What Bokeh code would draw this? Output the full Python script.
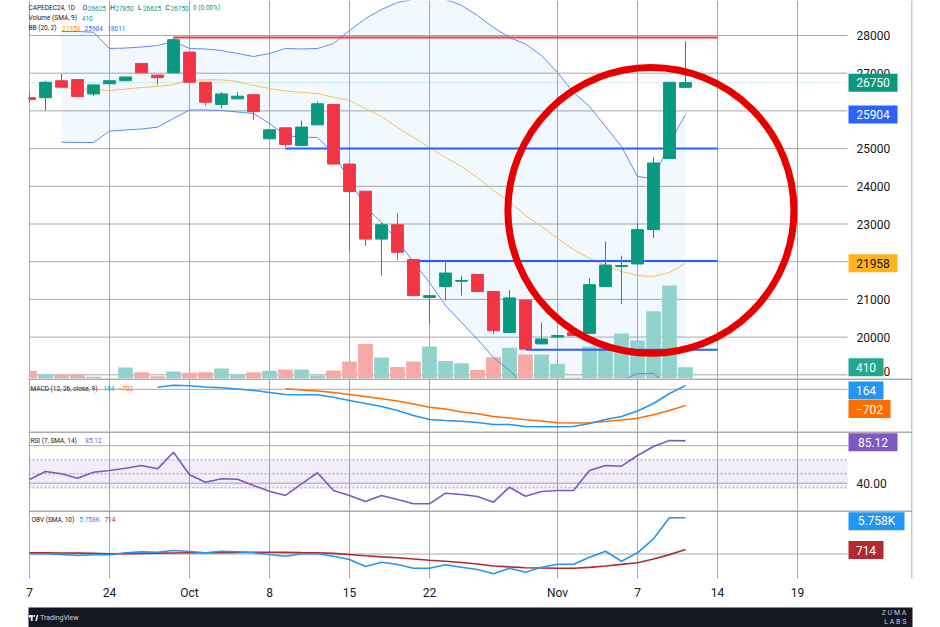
import math
from bokeh.plotting import figure
from bokeh.models import FixedTicker, Grid, Span, Range1d
from bokeh.layouts import column
from bokeh.embed import file_html
from bokeh.resources import INLINE
from bokeh.core.properties import value

NAN = float("nan")

# ------------------------------------------------------------------ data
BAR_INDEX = list(range(-5, 37))          # trading-day index (0 = Sep 24)
TICK_POS = [-5, 0, 5, 10, 15, 20, 28, 33, 38, 43]
TICK_LABELS = ["7", "24", "Oct", "8", "15", "22", "Nov", "7", "14", "19"]

OPEN = [26350, 26350, 26800, 26830, 26450, 26720, 26800, 27260, 26950, 27010,
        27560, 26760, 26170, 26320, 26430, 25260, 25550, 25080, 25630, 26170,
        24590, 23870, 22600, 22980, 22060, 21050, 21340, 21480, 21660, 21210,
        20120, 20980, 19820, 20000, 20120, 20100, 21340, 21870, 21940, 22850,
        24740, 26625]
HIGH = [26480, 26800, 26980, 26830, 26690, 26800, 26900, 27260, 26950, 27950,
        27560, 26760, 26500, 26500, 26430, 25500, 25550, 25740, 26250, 26170,
        24590, 23870, 23040, 23280, 22060, 21110, 21980, 21630, 21660, 21210,
        21250, 20980, 20390, 20060, 20120, 21570, 22540, 22160, 23040, 24770,
        26760, 27850]
LOW = [26220, 26010, 26630, 26380, 26390, 26720, 26800, 27010, 26690, 27010,
       26760, 26140, 26070, 26320, 25760, 25260, 25050, 25080, 25630, 24590,
       22290, 22420, 21630, 22050, 21100, 20350, 20970, 21100, 21210, 20080,
       20120, 19680, 19820, 19990, 20040, 20100, 21340, 20880, 21940, 22630,
       24740, 26625]
CLOSE = [26300, 26760, 26630, 26380, 26690, 26800, 26900, 27010, 26880, 27890,
         26760, 26230, 26450, 26390, 25980, 25500, 25110, 25570, 26190, 24590,
         23860, 22600, 22980, 22250, 21100, 21100, 21700, 21500, 21210, 20170,
         21040, 19680, 19950, 20040, 20040, 21390, 21910, 21900, 22850, 24620,
         26760, 26750]
VOLUME = [280, 156, 134, 134, 62, 20, 400, 229, 84, 254,
          207, 229, 363, 156, 229, 280, 327, 327, 109, 290,
          617, 1252, 762, 417, 617, 1162, 635, 555, 316, 773,
          1114, 871, 871, 534, 30, 1162, 1162, 1634, 1379, 2443,
          3376, 410]

BB_UPPER = [NAN, NAN,
            28106, 28106, 28088, 27655, 27668, 27695, 27735, 27841, 27655, 27642,
            27602, 27523, 27443, 27523, 27655, 27642, 27655, 27788, 28133, 28451,
            28690, 28875, 28960, 29000, 28960, 28800, 28530, 28212, 27947, 27775,
            27469, 27019, 26488, 26117, 25586, 25056, 24260, 24207, 25150, 25904]
BB_BASIS = [NAN, NAN,
            26621, 26594, 26568, 26541, 26581, 26621, 26647, 26700, 26806, 26825,
            26825, 26780, 26674, 26594, 26528, 26488, 26462, 26363, 26276, 26064,
            25851, 25560, 25294, 25029, 24764, 24525, 24233, 23889, 23597, 23225,
            22934, 22615, 22324, 22085, 21899, 21740, 21634, 21607, 21714, 21958]
BB_LOWER = [NAN, NAN,
            25170, 25162, 25162, 25462, 25493, 25520, 25568, 25798, 26024, 26024,
            26011, 25971, 25931, 25666, 25347, 25302, 25294, 24870, 24154, 23464,
            23040, 22562, 21979, 21448, 20838, 20387, 19936, 19459, 19114, 18700,
            18400, 18200, 18150, 18300, 18600, 18850, 19034, 19034, 18700, 18011]

MACD_LINE = [NAN] * 8 + [91, 178, 152, 100, 65, 13, -52, -139, -225, -238,
                         -238, -342, -485, -615, -745, -918, -1134, -1308, -1351, -1381,
                         -1438, -1524, -1524, -1611, -1624, -1624, -1611, -1481, -1308, -1178,
                         -940, -615, -182, 164]
MACD_SIGNAL = [NAN] * 16 + [22, -30, -74, -139, -225, -312, -411, -507, -637, -775,
                            -853, -983, -1061, -1178, -1243, -1321, -1373, -1451, -1459, -1451,
                            -1394, -1329, -1251, -1104, -918, -702]

RSI = [43.9, 52.5, 50, 45.3, 51.7, 53.5, 56, 58.9, 55.3, 73,
       48.9, 41, 44.7, 44.2, 37.5, 31.4, 26.9, 39.3, 51.1, 32.2,
       26.9, 20.5, 26.9, 22.6, 18, 18, 29.3, 27.9, 25.8, 19.7,
       35.7, 26.1, 31.1, 32.2, 32.2, 53.5, 58.9, 58.1, 69.5, 79.1,
       85.5, 85.12]
RSI_BANDS = [35, 50, 65]
RSI_GRID = [40, 80]

OBV = [32, 32, -80, -238, -127, -127, 191, 350, 286, 557,
       398, 191, 445, 350, 191, -80, -350, 32, 32, -350,
       -874, -1988, -1304, -1670, -2258, -2258, -1717, -2099, -2465, -3148,
       -2258, -2894, -2099, -1622, -1622, -509, 445, -1145, 191, 2417,
       5756, 5758]
OBV_SMA = [191, 180, 160, 140, 100, 32, 60, 100, 140, 170,
           191, 200, 220, 260, 280, 286, 260, 220, 191, 100,
           -80, -280, -450, -604, -800, -1000, -1145, -1352, -1600, -1900,
           -2050, -2180, -2220, -2258, -2258, -2130, -1900, -1650, -1400, -800,
           -100, 714]

PRICE_TICKS = [19000, 20000, 21000, 23000, 24000, 25000, 27000, 28000]
BLUE_LEVELS = [25000, 22020, 19665]
BLUE_LEVEL_START = [11, 19.4, 26]
RED_LEVELS = [27950]
RED_LEVEL_START = [4]
LEVEL_END = 38
HIGHLIGHT_BAR, HIGHLIGHT_PRICE = 33.84, 23360

# ------------------------------------------------------------------ style / geometry
W = 940
GRID = "#a8a8a8"
SEP = "#8f9197"
TEXT = "#131722"
UP, DOWN = "#089981", "#f23645"
VOL_UP, VOL_DOWN = "#92d2cc", "#f7a9a7"
FONT = "Roboto"


def ix(px):            # page pixel -> bar index
    return (px - 109) / 16.0


def main_y(py):
    return 28000 - (py - 35) / 0.0377


def vol_y(py):
    return (378 - py) * 36.3


def macd_y(py):
    return (388.8 - py) * 43.3


def rsi_y(py):
    return 50 + (473.3 - py) / 0.9375


def obv_y(py):
    return (553.5 - py) * 159


X_LEFT, X_SCALE, X_RIGHT = ix(28), ix(847), ix(912)

EM = {c: 0.562 for c in "0123456789"}
EM.update({" ": 0.248, ",": 0.197, ".": 0.263, "(": 0.342, ")": 0.348,
           "%": 0.733, "\u2212": 0.57, "-": 0.276})


def text_w(s, size):
    w = 0.0
    for ch in s:
        if ch in EM:
            w += EM[ch]
        elif ch.isupper():
            w += 0.66
        elif ch in "il":
            w += 0.24
        elif ch in "mw":
            w += 0.82
        else:
            w += 0.54
    return w * size * 1.06


def make_fig(height, y_lo, y_hi, bottom=0, axis=False):
    p = figure(width=W, height=height,
               x_range=Range1d(X_LEFT, X_RIGHT), y_range=Range1d(y_lo, y_hi),
               output_backend="svg", toolbar_location=None,
               x_axis_location="below" if axis else None, y_axis_location=None,
               min_border_left=28, min_border_right=28, min_border_top=0,
               min_border_bottom=bottom, outline_line_color=None,
               background_fill_color="white", border_fill_color="white")
    p.xgrid.visible = False
    p.ygrid.visible = False
    p.add_layout(Grid(dimension=0, ticker=FixedTicker(ticks=TICK_POS),
                      grid_line_color=GRID, grid_line_width=1))
    p.add_layout(Span(location=ix(911.5), dimension="height",
                      line_color=SEP, line_width=1))
    return p


def hgrid(p, ys, color=GRID, dash="solid"):
    p.segment(x0=X_LEFT, x1=X_SCALE, y0=ys, y1=ys, line_color=color,
              line_width=1, line_dash=dash)


def legend(p, x0, yv, parts, size=6.5):
    xs, ys, texts, cols = [], [], [], []
    x = x0
    for txt, col, gap in parts:
        xs.append(ix(x))
        ys.append(yv)
        texts.append(txt)
        cols.append(col)
        x += text_w(txt, size) + (0.5 * size if gap else 0.4)
    p.text(x=xs, y=ys, text=texts, text_color=cols, text_font=value(FONT),
           text_font_size=f"{size}px", text_align="left", text_baseline="middle")


def scale_labels(p, ys, texts, baselines=None):
    p.text(x=[ix(856)] * len(ys), y=ys, text=texts, text_color=TEXT,
           text_font=value(FONT), text_font_size="12px", text_align="left",
           text_baseline="middle")


def badge(p, yv, txt, bg, fg="white", y_range_name=None):
    w = 14 + 7 * len(txt)
    cx = ix(848 + w / 2)
    kw = {"y_range_name": y_range_name} if y_range_name else {}
    p.rect(x=[cx], y=[yv], width=w, height=18, width_units="screen",
           height_units="screen", fill_color=bg, line_color=None, **kw)
    p.text(x=[cx], y=[yv], text=[txt], text_color=fg, text_font=value(FONT),
           text_font_size="12px", text_align="center", text_baseline="middle", **kw)


def fmt(v):
    return f"{v:.0f}".replace("-", "\u2212")


up = [c >= o for o, c in zip(OPEN, CLOSE)]
cand_col = [UP if u else DOWN for u in up]
vol_col = [VOL_UP if u else VOL_DOWN for u in up]

# ------------------------------------------------------------------ main pane
main = make_fig(378, main_y(378), main_y(0))
main.extra_y_ranges = {"vol": Range1d(0, vol_y(0))}
hgrid(main, PRICE_TICKS + [22000, 26000])

bb_idx = [i for i, v in zip(BAR_INDEX, BB_UPPER) if not math.isnan(v)]
bb_up = [v for v in BB_UPPER if not math.isnan(v)]
bb_lo = [v for v in BB_LOWER if not math.isnan(v)]
main.varea(x=bb_idx, y1=bb_lo, y2=bb_up, fill_color="#2196f3", fill_alpha=0.06)

main.vbar(x=BAR_INDEX, top=VOLUME, bottom=0, width=0.92, fill_color=vol_col,
          line_color=None, y_range_name="vol")

main.line(BAR_INDEX, BB_UPPER, line_color="#5a8af5", line_width=1)
main.line(BAR_INDEX, BB_LOWER, line_color="#5a8af5", line_width=1)
main.line(BAR_INDEX, BB_BASIS, line_color="#f5bf55", line_width=1)

main.segment(x0=X_LEFT, x1=X_SCALE, y0=CLOSE[-1], y1=CLOSE[-1],
             line_color=UP, line_alpha=0.45, line_width=1, line_dash="1 2")
main.segment(x0=BLUE_LEVEL_START, x1=LEVEL_END, y0=BLUE_LEVELS, y1=BLUE_LEVELS,
             line_color="#2a5cff", line_width=2)
main.segment(x0=RED_LEVEL_START, x1=LEVEL_END, y0=RED_LEVELS, y1=RED_LEVELS,
             line_color="#ef3b45", line_width=2)

main.segment(x0=BAR_INDEX, x1=BAR_INDEX, y0=LOW, y1=HIGH, line_color=cand_col,
             line_width=1)
main.vbar(x=BAR_INDEX, width=0.74,
          top=[max(o, c) for o, c in zip(OPEN, CLOSE)],
          bottom=[min(o, c) for o, c in zip(OPEN, CLOSE)],
          fill_color=cand_col, line_color=cand_col, line_width=1)

main.scatter(x=[HIGHLIGHT_BAR], y=[HIGHLIGHT_PRICE], marker="circle", size=286,
             fill_color=None, line_color="#e60000", line_width=7)

# price-scale labels; the lowest one is lifted so it stays inside the pane
label_y = [max(t, main_y(371)) for t in PRICE_TICKS]
scale_labels(main, label_y, [str(t) for t in PRICE_TICKS])
badge(main, CLOSE[-1], str(CLOSE[-1]), UP)
badge(main, BB_UPPER[-1], str(BB_UPPER[-1]), "#2962ff")
badge(main, BB_BASIS[-1], str(BB_BASIS[-1]), "#ffb31a", TEXT)
badge(main, VOLUME[-1], str(VOLUME[-1]), "#22a68f", y_range_name="vol")

legend(main, 28, main_y(7.5), [
    ("CAPEDEC24, 1D", TEXT, True), ("O", TEXT, False), (str(OPEN[-1]), UP, True),
    ("H", TEXT, False), (str(HIGH[-1]), UP, True), ("L", TEXT, False),
    (str(LOW[-1]), UP, True), ("C", TEXT, False), (str(CLOSE[-1]), UP, True),
    ("0 (0.00%)", UP, True)])
legend(main, 28, main_y(17.5), [("Volume (SMA, 9)", TEXT, True),
                                (str(VOLUME[-1]), UP, True)])
legend(main, 28, main_y(27.5), [("BB (20, 2)", TEXT, True),
                                (str(BB_BASIS[-1]), "#ff9800", True),
                                (str(BB_UPPER[-1]), "#2962ff", True),
                                (str(BB_LOWER[-1]), "#2962ff", True)])

# ------------------------------------------------------------------ MACD pane
macd = make_fig(53, macd_y(431), macd_y(378))
macd.add_layout(Span(location=macd_y(378.6), dimension="width", line_color=SEP,
                     line_width=1.5))
hgrid(macd, [0])
macd.line(BAR_INDEX, MACD_SIGNAL, line_color="#ff6d00", line_width=1.6)
macd.line(BAR_INDEX, MACD_LINE, line_color="#2196f3", line_width=1.6)
badge(macd, MACD_LINE[-1] - 5 * 43.3, fmt(MACD_LINE[-1]), "#2196f3")
badge(macd, MACD_SIGNAL[-1] - 3.5 * 43.3, fmt(MACD_SIGNAL[-1]), "#ff6d00")
legend(macd, 30, macd_y(388), [("MACD (12, 26, close, 9)", TEXT, True),
                               (fmt(MACD_LINE[-1]), "#2196f3", True),
                               (fmt(MACD_SIGNAL[-1]), "#ff6d00", True)])

# ------------------------------------------------------------------ RSI pane
rsi = make_fig(79, rsi_y(510), rsi_y(431))
rsi.add_layout(Span(location=rsi_y(431.6), dimension="width", line_color=SEP,
                    line_width=1.5))
hgrid(rsi, RSI_GRID)
rsi.varea(x=[X_LEFT, X_SCALE], y1=[RSI_BANDS[0]] * 2, y2=[RSI_BANDS[-1]] * 2,
          fill_color="#7e57c2", fill_alpha=0.1)
hgrid(rsi, RSI_BANDS, color="#9598a1", dash="2 2")
rsi.line(BAR_INDEX, RSI, line_color="#7e57c2", line_width=1.6)
scale_labels(rsi, [RSI_GRID[0]], [f"{RSI_GRID[0]:.2f}"])
badge(rsi, RSI[-1] - 1.4 / 0.9375, f"{RSI[-1]:.2f}", "#7e57c2")
legend(rsi, 30, rsi_y(440), [("RSI (7, SMA, 14)", TEXT, True),
                             (f"{RSI[-1]:.2f}", "#7e57c2", True)])

# ------------------------------------------------------------------ OBV pane
obv = make_fig(97, obv_y(578), obv_y(510), bottom=29, axis=True)
obv.add_layout(Span(location=obv_y(510.6), dimension="width", line_color=SEP,
                    line_width=1.5))
hgrid(obv, [0])
obv.line(BAR_INDEX, OBV_SMA, line_color="#b22833", line_width=1.6)
obv.line(BAR_INDEX, OBV, line_color="#2196f3", line_width=1.6)
obv_txt = f"{OBV[-1] / 1000:.3f}K"
badge(obv, OBV[-1] - 3.5 * 159, obv_txt, "#2196f3")
badge(obv, OBV_SMA[-1] - 0.5 * 159, str(OBV_SMA[-1]), "#b22833")
legend(obv, 31, obv_y(519), [("OBV (SMA, 10)", TEXT, True),
                             (obv_txt, "#2196f3", True),
                             (str(OBV_SMA[-1]), "#b22833", True)])

ax = obv.xaxis[0]
ax.ticker = FixedTicker(ticks=TICK_POS)
ax.major_label_overrides = {k: v for k, v in zip(TICK_POS, TICK_LABELS)}
ax.axis_line_color = None
ax.major_tick_line_color = None
ax.minor_tick_line_color = None
ax.major_tick_out = 0
ax.major_tick_in = 0
ax.major_label_standoff = 7
ax.major_label_text_font = FONT
ax.major_label_text_font_size = "12px"
ax.major_label_text_color = TEXT

# ------------------------------------------------------------------ footer bar
bar = figure(width=W, height=20, x_range=Range1d(28, 912), y_range=Range1d(0, 20),
             output_backend="svg", toolbar_location=None, x_axis_location=None,
             y_axis_location=None, min_border_left=28, min_border_right=28,
             min_border_top=0, min_border_bottom=0, outline_line_color=None,
             background_fill_color="#131722", border_fill_color="white")
bar.xgrid.visible = False
bar.ygrid.visible = False
bar.quad(left=[28.5, 30.3], right=[32.2, 32.2], bottom=[10, 6.5], top=[12.5, 12.5],
         fill_color="#e8eaf0", line_color=None)
bar.scatter(x=[33.8], y=[11.5], marker="circle", size=2.2, fill_color="#e8eaf0",
            line_color=None)
bar.patch(x=[34.6, 36.4, 38.0, 36.2], y=[6.5, 12.5, 12.5, 6.5], fill_color="#e8eaf0",
          line_color=None)
bar.text(x=[39.5], y=[9.5], text=["TradingView"], text_color="#d1d4dc",
         text_font=value(FONT), text_font_size="7px", text_align="left",
         text_baseline="middle")
bar.text(x=[911, 911], y=[15, 6], text=["Z  U  M  A", "L  A  B  S"],
         text_color="#c9cbd1", text_font=value(FONT), text_font_size="7px",
         text_align="right", text_baseline="middle")

layout = column(main, macd, rsi, obv, bar, spacing=0)
open("out.html", "w").write(file_html(layout, INLINE))
